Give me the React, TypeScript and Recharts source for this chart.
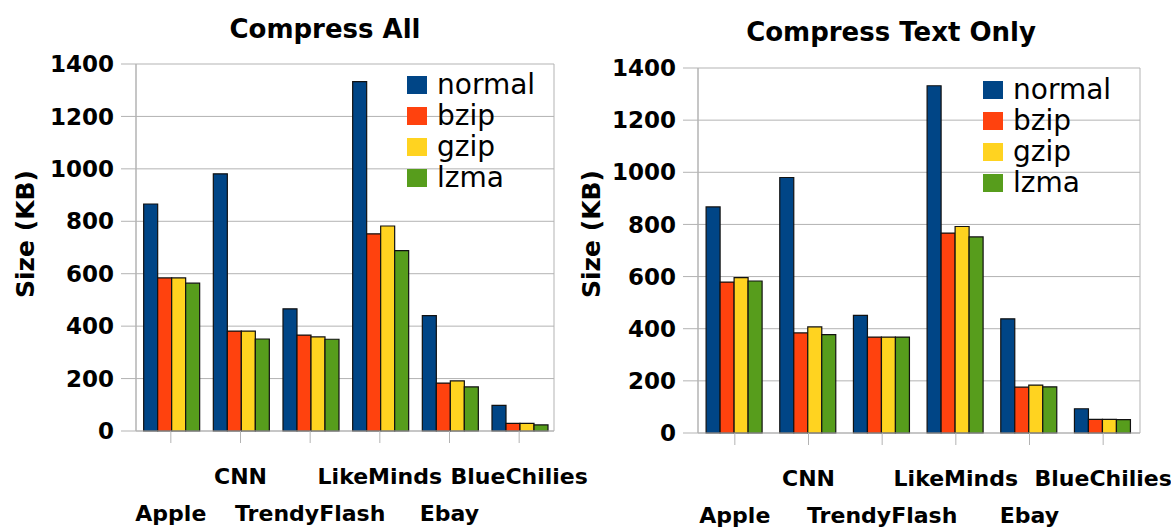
import { BarChart, Bar, XAxis, YAxis, CartesianGrid, Legend } from "recharts";

const sites = ["Apple", "CNN", "TrendyFlash", "LikeMinds", "Ebay", "BlueChilies"];
const yTicks = [0, 200, 400, 600, 800, 1000, 1200, 1400];

// Compress All
const allNormal = [866, 981, 466, 1333, 440, 98];
const allBzip = [584, 381, 366, 752, 183, 29];
const allGzip = [584, 381, 359, 782, 191, 29];
const allLzma = [564, 351, 350, 688, 168, 23];

// Compress Text Only
const textNormal = [867, 980, 451, 1332, 438, 93];
const textBzip = [579, 384, 368, 767, 176, 52];
const textGzip = [596, 407, 368, 792, 184, 52];
const textLzma = [583, 377, 368, 752, 177, 51];

const series = [
  { key: "normal", color: "#004586" },
  { key: "bzip", color: "#ff420e" },
  { key: "gzip", color: "#ffd320" },
  { key: "lzma", color: "#579d1c" },
];

const buildRows = (normal: number[], bzip: number[], gzip: number[], lzma: number[]) =>
  sites.map((site, i) => ({ site, normal: normal[i], bzip: bzip[i], gzip: gzip[i], lzma: lzma[i] }));

const allData = buildRows(allNormal, allBzip, allGzip, allLzma);
const textData = buildRows(textNormal, textBzip, textGzip, textLzma);

const GRID = "#b3b3b3";
const FONT = "'DejaVu Sans', sans-serif";

const StaggerTick = (props: any) => {
  const { x, y, payload, index } = props;
  const upper = index % 2 === 1;
  return (
    <text
      x={x}
      y={y + (upper ? 39 : 76)}
      textAnchor="middle"
      fontFamily={FONT}
      fontWeight="bold"
      fontSize={22}
      fill="#000"
    >
      {payload.value}
    </text>
  );
};

const SizeLabel = ({ cx, cy }: { cx: number; cy: number }) => (
  <text
    x={cx}
    y={cy}
    transform={`rotate(-90, ${cx}, ${cy})`}
    textAnchor="middle"
    dominantBaseline="central"
    fontFamily={FONT}
    fontWeight="bold"
    fontSize={25}
    fill="#000"
  >
    Size (KB)
  </text>
);

const LegendBox = () => (
  <div style={{ fontFamily: FONT, fontSize: 28, color: "#000" }}>
    {series.map((s) => (
      <div key={s.key} style={{ display: "flex", alignItems: "center", height: 31 }}>
        <span style={{ display: "inline-block", width: 20, height: 18, background: s.color, marginRight: 10 }} />
        <span style={{ lineHeight: "31px" }}>{s.key}</span>
      </div>
    ))}
  </div>
);

interface PanelProps {
  title: string;
  data: any[];
  left: number;
  width: number;
  margin: { top: number; right: number; bottom: number; left: number };
  yAxisWidth: number;
  xAxisHeight: number;
  titleX: number;
  titleTop: number;
  legendX: number;
  legendY: number;
  labelX: number;
}

const Panel = (p: PanelProps) => (
  <div style={{ position: "absolute", left: p.left, top: 0, width: p.width, height: 528 }}>
    <div
      style={{
        position: "absolute",
        left: p.titleX,
        top: p.titleTop,
        transform: "translateX(-50%)",
        whiteSpace: "nowrap",
        fontFamily: FONT,
        fontWeight: "bold",
        fontSize: 26,
        lineHeight: "26px",
        color: "#000",
      }}
    >
      {p.title}
    </div>
    <BarChart
      width={p.width}
      height={528}
      data={p.data}
      margin={p.margin}
      barGap={0}
      barCategoryGap="11%"
      style={{ overflow: "visible" }}
    >
      <CartesianGrid
        stroke={GRID}
        verticalCoordinatesGenerator={({ offset }: any) => [offset.left, offset.left + offset.width]}
      />
      <XAxis
        dataKey="site"
        height={p.xAxisHeight}
        interval={0}
        tick={<StaggerTick />}
        tickSize={12}
        axisLine={{ stroke: GRID }}
        tickLine={{ stroke: GRID }}
      />
      <YAxis
        width={p.yAxisWidth}
        domain={[0, 1400]}
        ticks={yTicks}
        tickSize={15}
        tickMargin={7}
        axisLine={{ stroke: GRID }}
        tickLine={{ stroke: GRID }}
        tick={{ fontFamily: FONT, fontWeight: "bold", fontSize: 23, fill: "#000" }}
        label={<SizeLabel cx={p.labelX} cy={234} />}
      />
      <Legend
        layout="vertical"
        align="center"
        verticalAlign="middle"
        content={<LegendBox />}
        wrapperStyle={{ left: p.legendX, top: p.legendY, width: "auto" }}
      />
      {series.map((s) => (
        <Bar
          key={s.key}
          dataKey={s.key}
          fill={s.color}
          stroke="#111"
          strokeWidth={1.2}
          isAnimationActive={false}
        />
      ))}
    </BarChart>
  </div>
);

export default function App() {
  return (
    <div style={{ position: "absolute", left: 0, top: 0, width: 1171, height: 528, background: "#fff" }}>
      <style>{`.recharts-surface { overflow: visible; } .recharts-wrapper { overflow: visible; }`}</style>
      <Panel
        title="Compress All"
        data={allData}
        left={0}
        width={580}
        margin={{ top: 64, right: 26, bottom: 0, left: 0 }}
        yAxisWidth={136}
        xAxisHeight={97}
        titleX={325}
        titleTop={16}
        legendX={407}
        legendY={69}
        labelX={25}
      />
      <Panel
        title="Compress Text Only"
        data={textData}
        left={580}
        width={591}
        margin={{ top: 68, right: 31, bottom: 0, left: 0 }}
        yAxisWidth={118}
        xAxisHeight={95}
        titleX={311}
        titleTop={19}
        legendX={403}
        legendY={74}
        labelX={11}
      />
    </div>
  );
}
